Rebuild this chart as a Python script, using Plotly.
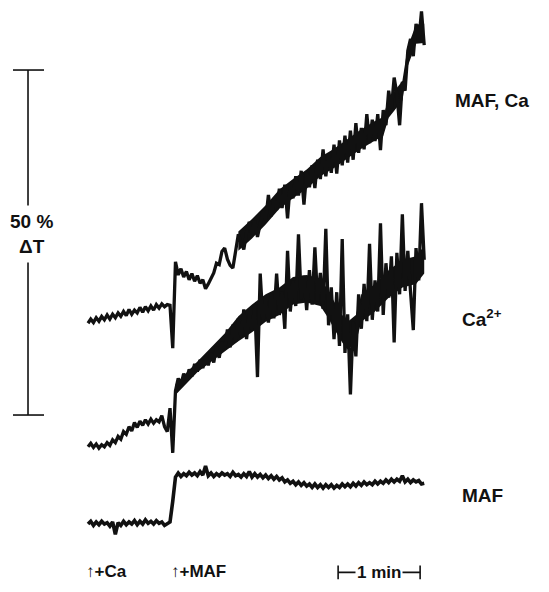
import plotly.graph_objects as go

# time axis (s), sampled every 2 s from the addition of Ca (t = 0) to the end of the record
time_s = list(range(0, 248, 2))

# %ΔT traces (arbitrary vertical offsets as in the original figure)
maf_ca = [
    38.3, 38.9, 38.4, 39.1, 38.6, 39.3, 38.8, 39.5, 38.9, 39.6,
    39.1, 39.8, 39.3, 40.0, 39.4, 40.3, 39.6, 40.2, 39.8, 40.6,
    39.9, 40.7, 40.1, 40.8, 40.2, 41.0, 40.5, 41.1, 40.7, 41.0,
    40.9, 34.7, 47.2, 45.3, 46.2, 45.0, 45.8, 44.6, 45.5, 44.4,
    45.2, 44.1, 44.6, 43.3, 44.0, 44.8, 45.6, 47.0, 46.8, 48.7,
    49.2, 47.6, 46.7, 46.3, 48.9, 51.2, 50.0, 49.0, 51.5, 53.0,
    51.2, 53.2, 50.8, 52.6, 54.6, 53.2, 56.9, 53.8, 56.3, 54.7,
    57.8, 55.0, 58.4, 53.5, 58.6, 56.4, 59.6, 56.8, 60.4, 55.5,
    60.2, 58.0, 61.2, 57.9, 62.0, 59.2, 63.5, 59.6, 62.8, 60.1,
    64.2, 60.0, 64.8, 61.2, 65.5, 61.6, 66.2, 62.0, 67.3, 63.0,
    66.6, 63.5, 68.6, 64.4, 67.8, 64.7, 68.6, 63.4, 69.2, 67.0,
    72.0, 69.4, 73.9, 71.5, 67.0, 73.3, 72.0, 77.8, 79.5, 77.0,
    81.7, 79.2, 83.5, 78.6,
]
ca2 = [
    20.4, 20.9, 20.3, 20.8, 20.2, 20.7, 20.4, 21.0, 20.6, 21.4,
    21.0, 21.9, 21.5, 22.6, 22.2, 23.3, 22.7, 23.9, 23.2, 24.1,
    23.5, 24.3, 23.7, 24.4, 23.8, 24.3, 24.0, 24.9, 23.3, 22.6,
    26.0, 19.5, 28.5, 30.3, 29.4, 31.0, 30.1, 31.6, 30.6, 32.4,
    31.3, 33.0, 31.8, 33.4, 32.2, 34.0, 32.6, 34.9, 33.3, 35.6,
    34.5, 37.4, 34.8, 38.1, 35.6, 39.0, 36.2, 40.3, 36.0, 39.6,
    37.2, 41.0, 30.5, 45.5, 38.5, 41.5, 38.4, 42.6, 39.0, 45.5,
    39.5, 42.9, 37.5, 48.8, 40.0, 44.5, 40.8, 51.2, 41.8, 45.2,
    40.2, 46.0, 41.0, 49.3, 41.5, 45.6, 40.4, 52.0, 38.0, 43.5,
    36.0, 42.8, 35.0, 50.5, 34.0, 39.6, 28.0, 38.5, 33.5, 42.5,
    37.5, 44.0, 38.6, 49.8, 38.8, 44.5, 40.0, 52.8, 39.5, 47.0,
    42.0, 48.0, 35.5, 48.5, 42.5, 54.1, 43.0, 48.8, 42.8, 37.3,
    49.2, 44.5, 55.7, 47.5,
]
maf = [
    9.2, 9.6, 9.0, 9.5, 9.1, 9.6, 9.2, 9.4, 8.9, 9.5,
    7.7, 9.4, 9.0, 9.6, 9.1, 9.5, 9.2, 9.7, 9.1, 9.6,
    9.2, 9.8, 9.3, 9.6, 9.2, 9.7, 9.3, 9.5, 9.0, 9.2,
    9.5, 12.5, 16.0, 16.6, 16.1, 16.5, 16.2, 16.7, 16.3, 16.6,
    16.2, 16.8, 16.3, 17.6, 16.2, 16.6, 16.1, 16.5, 16.2, 16.6,
    16.3, 16.5, 16.1, 16.7, 16.2, 16.4, 16.0, 16.5, 16.1, 16.8,
    16.0, 16.5, 16.0, 16.4, 15.9, 16.3, 15.8, 16.2, 15.7, 16.1,
    15.6, 15.9, 15.3, 15.6, 15.1, 15.4, 14.9, 15.3, 14.8, 15.2,
    14.7, 15.0, 14.5, 15.0, 14.5, 14.9, 14.4, 14.9, 14.5, 14.9,
    14.4, 14.8, 14.5, 15.0, 14.6, 15.0, 14.6, 15.1, 14.7, 15.2,
    14.8, 15.3, 14.9, 15.2, 14.9, 15.4, 15.0, 15.4, 15.1, 15.6,
    15.2, 15.7, 15.3, 15.7, 15.4, 16.2, 15.3, 15.7, 15.2, 15.6,
    15.3, 15.5, 15.0, 15.1,
]

# inked-in core of the noise band in the noisy parts
maf_ca_band_t = [110, 120, 130, 140, 150, 160, 170, 180, 190, 200, 210, 216, 220, 226, 230, 234, 240, 246]
maf_ca_band_hi = [51.6, 53.4, 55.4, 57.7, 59.2, 60.6, 62.4, 63.6, 65.0, 66.4, 67.6, 68.2, 70.9, 72.4, 73.4, 78.4, 81.6, 81.7]
maf_ca_band_lo = [48.8, 50.6, 52.6, 54.9, 56.4, 57.8, 59.6, 60.8, 62.2, 63.6, 64.8, 65.4, 68.1, 69.6, 70.6, 75.6, 78.8, 78.9]
ca2_band_t = [64, 80, 100, 110, 120, 130, 140, 150, 160, 170, 176, 180, 186, 190, 196, 200, 210, 220, 230, 240, 246]
ca2_band_hi = [29.5, 32.8, 36.8, 39.3, 41.0, 42.5, 43.5, 45.0, 45.3, 44.8, 43.0, 41.5, 39.5, 38.5, 39.5, 42.5, 44.0, 46.0, 47.5, 48.0, 49.5]
ca2_band_lo = [27.9, 31.2, 34.2, 35.7, 37.0, 38.5, 39.5, 41.0, 41.3, 40.8, 39.0, 37.5, 35.5, 34.5, 35.5, 38.5, 40.0, 42.0, 43.5, 44.0, 45.5]

trace_names = ["MAF, Ca", "Ca<sup>2+</sup>", "MAF"]
addition_labels = ["↑+Ca", "↑+MAF"]
addition_times = [0, 62]
scale_pct = [25, 75]          # 50 % ΔT calibration
scale_time = [183, 243]       # 1 min calibration

# the page body has an 8 px margin, so the figure is made 8 px smaller on each used side
W, H = 541, 576
X_RANGE = [-58.54, 337.3]
Y_RANGE = [0.51, 83.99]
FONT = "Liberation Sans"
INK = "#111111"

fig = go.Figure()
for bt, hi, lo in [(maf_ca_band_t, maf_ca_band_hi, maf_ca_band_lo),
                   (ca2_band_t, ca2_band_hi, ca2_band_lo)]:
    fig.add_trace(go.Scatter(x=bt, y=hi, mode="lines", line=dict(width=0, color=INK),
                             showlegend=False, hoverinfo="skip"))
    fig.add_trace(go.Scatter(x=bt, y=lo, mode="lines", line=dict(width=0, color=INK),
                             fill="tonexty", fillcolor=INK,
                             showlegend=False, hoverinfo="skip"))
for vals, lw in [(maf_ca, 3.3), (ca2, 3.3), (maf, 3.6)]:
    fig.add_trace(go.Scatter(x=time_s, y=vals, mode="lines",
                             line=dict(color=INK, width=lw), showlegend=False,
                             hoverinfo="skip"))

shapes = []
# vertical 50 % ΔT bar
bx, cap0, cap1 = -43.9, -54.9, -32.2
shapes.append(dict(type="line", x0=bx, x1=bx, y0=scale_pct[0], y1=scale_pct[1],
                   line=dict(color=INK, width=1.6)))
for yv in scale_pct:
    shapes.append(dict(type="line", x0=cap0, x1=cap1, y0=yv, y1=yv,
                       line=dict(color=INK, width=1.6)))
# 1 min bar
ty, tick = 2.2, 1.0
shapes.append(dict(type="line", x0=scale_time[0], x1=scale_time[1], y0=ty, y1=ty,
                   line=dict(color=INK, width=1.6)))
for xv in scale_time:
    shapes.append(dict(type="line", x0=xv, x1=xv, y0=ty - tick, y1=ty + tick,
                       line=dict(color=INK, width=1.6)))

ann = []
ann.append(dict(x=bx + 2.5, y=51.2, xref="x", yref="y", text="<b>50 %<br>ΔT</b>",
                showarrow=False, bgcolor="white", borderpad=5,
                font=dict(family=FONT, size=19, color=INK)))
ann.append(dict(x=(scale_time[0] + scale_time[1]) / 2, y=ty, xref="x", yref="y",
                text="<b>1 min</b>", showarrow=False, bgcolor="white", borderpad=1,
                font=dict(family=FONT, size=17, color=INK)))
for lab, tt in zip(addition_labels, addition_times):
    ann.append(dict(x=tt - 3, y=2.3, xref="x", yref="y", text="<b>" + lab + "</b>",
                    xanchor="left", showarrow=False,
                    font=dict(family=FONT, size=17, color=INK)))
label_y = [70.6, 39.0, 13.4]
label_x = [267, 272, 272]
for lab, xv, yv in zip(trace_names, label_x, label_y):
    ann.append(dict(x=xv, y=yv, xref="x", yref="y", text="<b>" + lab + "</b>",
                    xanchor="left", showarrow=False,
                    font=dict(family=FONT, size=19, color=INK)))

fig.update_layout(
    width=W, height=H, margin=dict(l=0, r=0, t=0, b=0),
    paper_bgcolor="white", plot_bgcolor="white",
    xaxis=dict(range=X_RANGE, visible=False, fixedrange=True),
    yaxis=dict(range=Y_RANGE, visible=False, fixedrange=True),
    shapes=shapes, annotations=ann,
)
fig.write_html("out.html")
